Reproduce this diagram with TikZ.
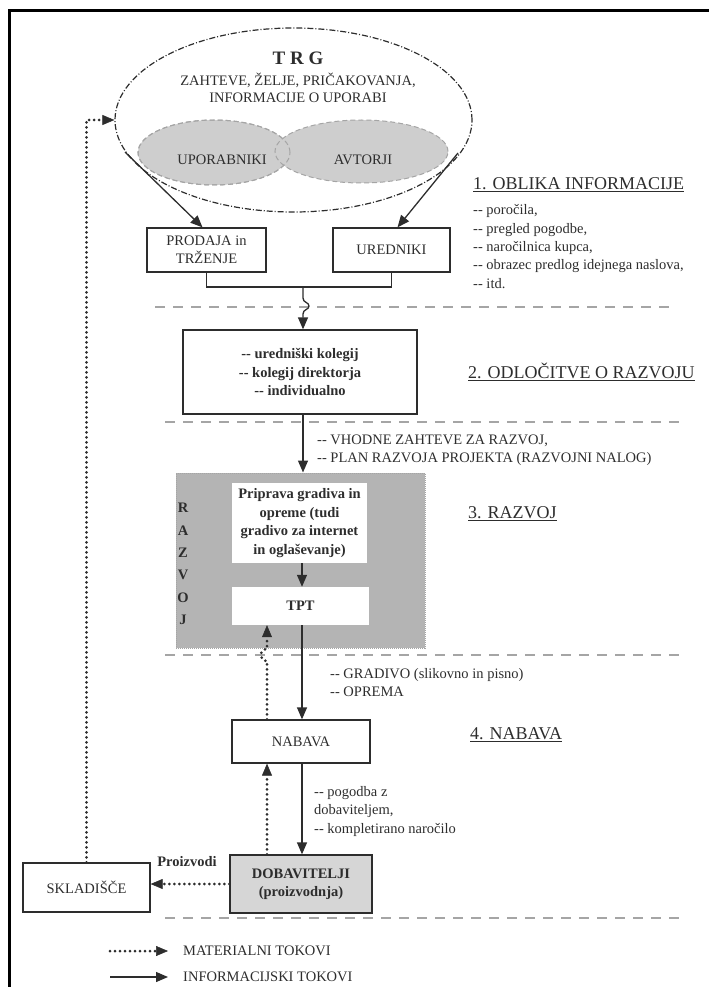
\documentclass[tikz,border=0pt]{standalone}
\usepackage{fontspec}
\setmainfont{Liberation Serif}
\usetikzlibrary{shapes.geometric,arrows.meta}
\definecolor{ink}{RGB}{45,45,45}
\definecolor{razvojgray}{RGB}{180,180,180}
\definecolor{dobgray}{RGB}{214,214,214}
\definecolor{grpgray}{RGB}{206,206,206}
\definecolor{sepgray}{RGB}{165,165,165}
\newcommand{\txt}{\fontsize{14.5}{18.4}\selectfont}
\newcommand{\hd}{\fontsize{18}{21}\selectfont}
\newcommand{\dd}{-{}-}

\begin{document}
\begin{tikzpicture}[x=1pt,y=-1pt,
    box/.style={draw=ink, line width=1.3pt, inner sep=0pt, align=center, font=\txt, text=ink},
    whitebox/.style={fill=white, inner sep=0pt, align=center, font=\txt\bfseries, text=ink},
    razvojbox/.style={fill=razvojgray, draw=sepgray, line width=1pt, dash pattern=on 1pt off 1pt},
    trgshape/.style={ellipse, draw=ink, line width=1.2pt, dash pattern=on 6pt off 2pt on 1pt off 2pt, inner sep=0pt},
    grpshape/.style={ellipse, fill=grpgray, draw=sepgray, line width=1pt, dash pattern=on 5pt off 3pt, inner sep=0pt},
    info/.style={draw=ink, line width=1.3pt, -{Triangle[length=12pt,width=10pt]}},
    mat/.style={draw=ink, line width=3pt, line cap=round, dash pattern=on 0pt off 5pt,
        -{Triangle[length=12pt,width=10pt,line width=0.5pt]}},
    sep/.style={draw=sepgray, line width=1.2pt, dash pattern=on 10pt off 8pt},
    note/.style={font=\txt, text=ink, align=left, inner sep=0pt},
    heading/.style={font=\hd, text=ink, inner sep=0pt}]
    \useasboundingbox (0,0) rectangle (709,987);
    % frame
    \draw[line width=3pt] (9,987) -- (9,11) -- (709,11);

    % trg
    \node[trgshape, minimum width=357pt, minimum height=184pt](trg) at (293.5,120) {};
    \node[text=ink, font=\bfseries\fontsize{19}{22}\selectfont](trgtitle) at (298,58) {T R G};
    \node[text=ink, align=center, font=\fontsize{14.5}{16.5}\selectfont](trgtext) at (298,88) {ZAHTEVE, ŽELJE, PRIČAKOVANJA,\\INFORMACIJE O UPORABI};
    \node[grpshape, minimum width=152pt, minimum height=65pt](uporabniki) at (214,152.5) {};
    \node[grpshape, minimum width=173pt, minimum height=63pt](avtorji) at (361.5,151.5) {};
    \draw[draw=sepgray, line width=1pt, dash pattern=on 5pt off 3pt] (uporabniki.center) ellipse [x radius=76pt, y radius=32.5pt];
    \node[note](upolabel) at (222,160) {UPORABNIKI};
    \node[note](avtlabel) at (363,160) {AVTORJI};

    % 1. oblika informacije
    \node[box, minimum width=119pt, minimum height=44pt](prodaja) at (206.5,250) {PRODAJA in\\TRŽENJE};
    \node[box, minimum width=117pt, minimum height=44pt](uredniki) at (391.5,250) {UREDNIKI};
    \coordinate (upoout) at (125,152);
    \coordinate (avtout) at (458,153);
    \draw[info] (upoout) -- ([xshift=-4pt]prodaja.north);
    \draw[info] (avtout) -- ([xshift=6pt]uredniki.north);
    \node[heading, anchor=west](h1) at (473,185) {\underline{1. OBLIKA INFORMACIJE}};
    \node[note, anchor=west](oblika) at (473,246.5) {\dd{} poročila,\\\dd{} pregled pogodbe,\\\dd{} naročilnica kupca,\\\dd{} obrazec predlog idejnega naslova,\\\dd{} itd.};
    \draw[sep] (155,307) -- (672,307);

    % 2. odlocitve
    \coordinate (join) at (303,287);
    \coordinate (flowx) at (302,0);
    \coordinate (matx) at (267,0);
    \node[box, font=\txt\bfseries, minimum width=234pt, minimum height=84pt](odlocitve) at (300,372) {\dd{} uredniški kolegij\\\dd{} kolegij direktorja\\\dd{} individualno};
    \draw[draw=ink, line width=1.3pt] (prodaja.south) |- (join) -| (uredniki.south);
    \draw[info] (join) -- (303,298) .. controls (303,303) and (309,302) .. (309,306)
        .. controls (309,310) and (303,309) .. (303,314) -- (odlocitve.north -| join);
    \node[heading, anchor=west](h2) at (468,372) {\underline{2. ODLOČITVE O RAZVOJU}};
    \draw[sep] (165,422) -- (682,422);

    % 3. razvoj
    \node[razvojbox, minimum width=249pt, minimum height=175pt](razvoj) at (300.5,560.5) {};
    \node[whitebox, minimum width=135pt, minimum height=80pt](priprava) at (299.5,523) {Priprava gradiva in\\opreme (tudi\\gradivo za internet\\in oglaševanje)};
    \node[whitebox, minimum width=137pt, minimum height=38pt](tpt) at (300.5,606) {TPT};
    \node[text=ink, align=center, inner sep=0pt, font=\bfseries\fontsize{14.5}{22.4}\selectfont](razvojlabel) at (183,564) {R\\A\\Z\\V\\O\\J};
    \draw[info] (odlocitve.south -| join) -- (razvoj.north -| join);
    \node[note, anchor=west](vhodne) at (317,450) {\dd{} VHODNE ZAHTEVE ZA RAZVOJ,\\\dd{} PLAN RAZVOJA PROJEKTA (RAZVOJNI NALOG)};
    \draw[info] (priprava.south -| flowx) -- (tpt.north -| flowx);
    \node[heading, anchor=west](h3) at (468,514) {\underline{3. RAZVOJ}};
    \draw[sep] (165,655) -- (682,655);

    % 4. nabava
    \node[box, minimum width=138pt, minimum height=43pt](nabava) at (301,741.5) {NABAVA};
    \draw[info] (tpt.south -| flowx) -- (nabava.north -| flowx);
    \draw[mat] (nabava.north -| matx) -- (267,661) arc[start angle=-90, end angle=-270, radius=6pt] -- (tpt.south -| matx);
    \node[note, anchor=west](gradivo) at (330,682.5) {\dd{} GRADIVO (slikovno in pisno)\\\dd{} OPREMA};
    \node[heading, anchor=west](h4) at (470,735) {\underline{4. NABAVA}};

    % dobavitelji, skladisce
    \node[box, fill=dobgray, font=\txt\bfseries, minimum width=142pt, minimum height=58pt](dobavitelji) at (301,884) {DOBAVITELJI\\(proizvodnja)};
    \node[box, minimum width=127pt, minimum height=49pt](skladisce) at (86.5,887.5) {SKLADIŠČE};
    \draw[info] (nabava.south -| flowx) -- (dobavitelji.north -| flowx);
    \draw[mat] (dobavitelji.north -| matx) -- (nabava.south -| matx);
    \node[note, anchor=west](pogodba) at (314,811.5) {\dd{} pogodba z\\dobaviteljem,\\\dd{} kompletirano naročilo};
    \draw[mat] (dobavitelji.west) -- (dobavitelji.west -| skladisce.east);
    \node[note, font=\txt\bfseries](proizvodi) at (187,862) {Proizvodi};
    \draw[mat] (skladisce.north) |- (trg.west);
    \draw[sep] (165,918) -- (682,918);

    % legend
    \coordinate (lm1) at (110,951);
    \coordinate (lm2) at (168,951);
    \coordinate (li1) at (110,977);
    \coordinate (li2) at (168,977);
    \draw[mat] (lm1) -- (lm2);
    \draw[info] (li1) -- (li2);
    \node[note, anchor=west](legmat) at (183,951) {MATERIALNI TOKOVI};
    \node[note, anchor=west](leginfo) at (183,977) {INFORMACIJSKI TOKOVI};
\end{tikzpicture}
\end{document}
